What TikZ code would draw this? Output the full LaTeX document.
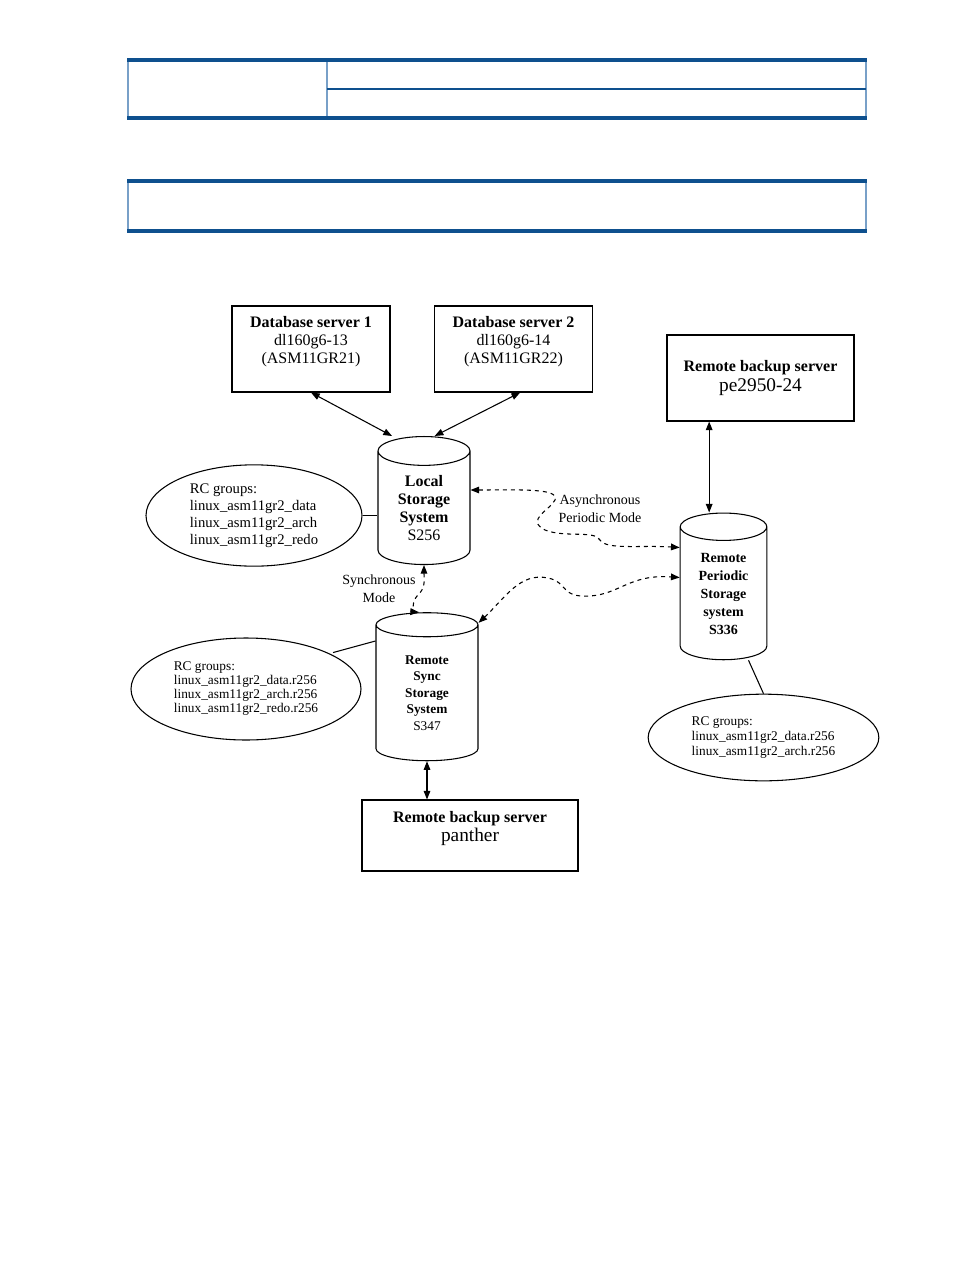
\documentclass[tikz,border=0pt]{standalone}
\usepackage{fontspec}
\setmainfont{Liberation Serif}
\usetikzlibrary{arrows.meta,shapes.geometric}
\definecolor{hpblue}{RGB}{14,80,142}
\definecolor{hplight}{RGB}{120,160,200}

\begin{document}
\begin{tikzpicture}[x=0.75pt,y=-0.75pt,
    server/.style={draw,thick,align=center,inner sep=0pt,font=\fontsize{12}{13.5}\selectfont},
    store/.style={draw,thick,cylinder,shape border rotate=90,aspect=0.55,align=center,inner sep=0pt},
    rcgroup/.style={draw,thick,ellipse,align=left,inner sep=0pt},
    both/.style={thick,{Triangle[length=6.5pt,width=5pt]}-{Triangle[length=6.5pt,width=5pt]}},
    replica/.style={thick,dashed,{Triangle[length=6.5pt,width=5pt]}-{Triangle[length=6.5pt,width=5pt]}},
    modetext/.style={align=center,inner sep=0pt,font=\fontsize{10.5}{13.5}\selectfont}]
                \useasboundingbox (0,0) rectangle (954,1270);
                % table frames at the top of the page
                \draw[hplight,thick] (128,59) -- (128,118) (327,59) -- (327,118) (866,59) -- (866,118);
                \draw[hpblue,thick] (327,89) -- (866,89);
                \draw[hpblue,line width=3pt] (127,60) -- (867,60) (127,118) -- (867,118);
                \draw[hplight,thick] (128,180) -- (128,231) (866,180) -- (866,231);
                \draw[hpblue,line width=3pt] (127,181) -- (867,181) (127,231) -- (867,231);
                % servers
                \node[server,minimum width=118.5pt,minimum height=64.5pt] (db1) at (311,349) {\textbf{Database server 1}\\dl160g6-13\\(ASM11GR21)\\ \mbox{}};
                \node[server,minimum width=118.5pt,minimum height=64.5pt] (db2) at (513.5,349) {\textbf{Database server 2}\\dl160g6-14\\(ASM11GR22)\\ \mbox{}};
                \node[server,minimum width=140.25pt,minimum height=64.5pt] (pe) at (760.5,378) {\textbf{Remote backup server}\\[2pt]{\fontsize{14.5}{15}\selectfont pe2950-24}};
                \node[server,minimum width=162pt,minimum height=53.25pt] (pan) at (470,835.5) {\textbf{Remote backup server}\\[1pt]{\fontsize{14.5}{15}\selectfont panther}\\ \mbox{}};
                % storage systems
                \node[store,minimum width=69pt,minimum height=96pt,font=\fontsize{12}{13.7}\selectfont] (loc) at (424,508) {\textbf{Local}\\\textbf{Storage}\\\textbf{System}\\S256};
                \node[store,minimum width=65pt,minimum height=110pt,font=\fontsize{10.5}{13.5}\selectfont] (rp) at (723.5,593.5) {\textbf{Remote}\\\textbf{Periodic}\\\textbf{Storage}\\\textbf{system}\\\textbf{S336}};
                \node[store,minimum width=76.5pt,minimum height=111pt,font=\fontsize{10}{12.4}\selectfont] (sync) at (427,693) {\textbf{Remote}\\\textbf{Sync}\\\textbf{Storage}\\\textbf{System}\\S347};
                % RC groups
                \node[rcgroup,minimum width=162pt,minimum height=76pt,font=\fontsize{11}{12.75}\selectfont] (rc1) at (254,515.5) {RC groups:\\linux\_asm11gr2\_data\\linux\_asm11gr2\_arch\\linux\_asm11gr2\_redo};
                \node[rcgroup,minimum width=172.5pt,minimum height=76.5pt,font=\fontsize{10}{10.5}\selectfont] (rc2) at (246,689) {RC groups:\\linux\_asm11gr2\_data.r256\\linux\_asm11gr2\_arch.r256\\linux\_asm11gr2\_redo.r256};
                \node[rcgroup,minimum width=173pt,minimum height=65pt,font=\fontsize{10}{11.25}\selectfont] (rc3) at (763.5,737.5) {RC groups:\\linux\_asm11gr2\_data.r256\\linux\_asm11gr2\_arch.r256};
                % mode labels
                \node[modetext] (async) at (600,509) {Asynchronous\\Periodic Mode};
                \node[modetext] (syncmode) at (379,589) {Synchronous\\Mode};
                % links
                \draw[both] (db1.south) -- ([xshift=-24pt]loc.north);
                \draw[both] ([xshift=5pt]db2.south) -- ([xshift=8pt]loc.north);
                \draw[both] ([xshift=-38.5pt]pe.south) -- ([xshift=-38.5pt]pe.south |- rp.north);
                \draw[both] (sync.south) -- (sync.south |- pan.north);
                \draw[thick] (rc1.east) -- (rc1.east -| loc.west);
                \draw[thick] ([xshift=4pt]rc2.north east) -- ([yshift=39pt]sync.west);
                \draw[thick] ([xshift=18.75pt]rp.south) -- (rc3.north);
                % replication
                \draw[replica] ([yshift=13.5pt]loc.east) .. controls (520,490) and (560,488) .. (555,500)
                    .. controls (550,510) and (525,520) .. (545,530)
                    .. controls (565,538) and (595,530) .. (600,540)
                    .. controls (606,550) and (640,545) .. ([yshift=34.5pt]rp.west);
                \draw[replica] (loc.south) .. controls (424,580) and (426,588) .. (417,596)
                    .. controls (410,604) and (416,612) .. ([xshift=-6pt]sync.north);
                \draw[replica] ([yshift=14pt]sync.north east) .. controls (505,598) and (520,572) .. (548,578)
                    .. controls (568,582) and (560,598) .. (590,596)
                    .. controls (620,594) and (630,574) .. ([yshift=12pt]rp.west);
            \end{tikzpicture}
\end{document}
